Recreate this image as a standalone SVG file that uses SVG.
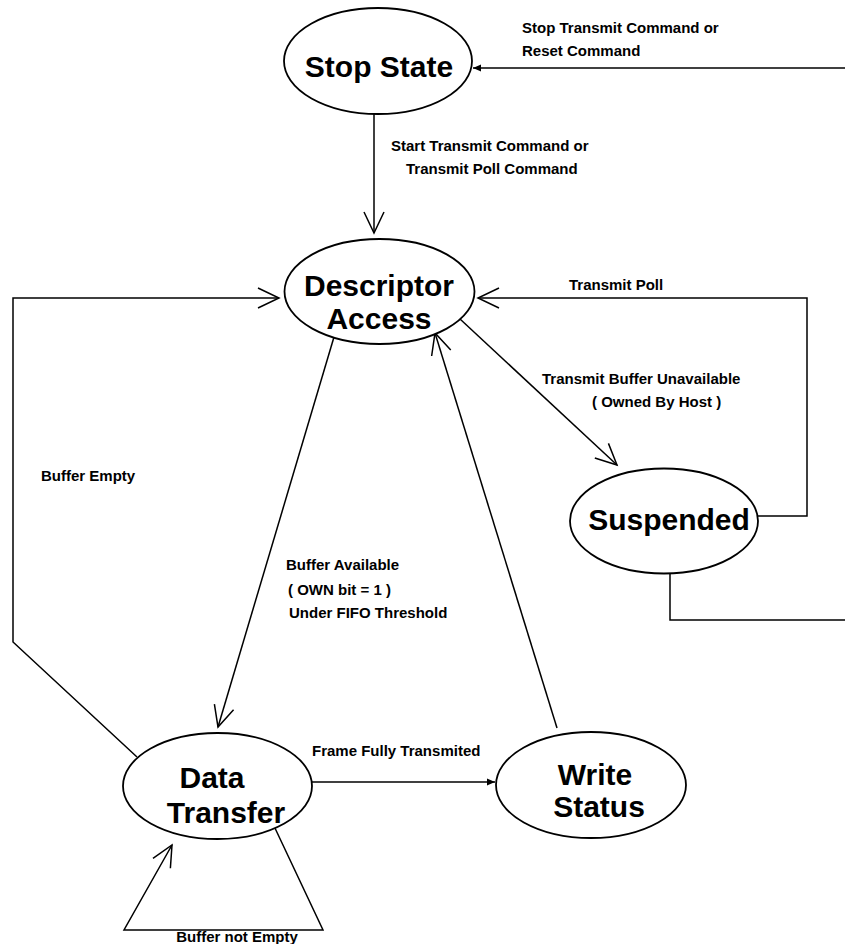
<svg xmlns="http://www.w3.org/2000/svg" width="845" height="944" viewBox="0 0 845 944">
<style>
.node ellipse{fill:#fff;stroke:#000;stroke-width:1.8}
.big{font-family:"Liberation Sans",Arial,sans-serif;font-weight:bold;font-size:30px;fill:#000;text-anchor:middle}
.lbl{font-family:"Liberation Sans",Arial,sans-serif;font-weight:bold;font-size:15px;fill:#000}
.conn path{fill:none;stroke:#000;stroke-width:1.5}
</style>
<defs>
<marker id="open" viewBox="-24 -13 27 26" refX="0" refY="0" markerWidth="27" markerHeight="26" markerUnits="userSpaceOnUse" orient="auto" overflow="visible">
<path d="M-21,-10 L0,0 L-21,10" fill="none" stroke="#000" stroke-width="1.5"/>
</marker>
<marker id="solid" viewBox="-10 -5 11 10" refX="0" refY="0" markerWidth="11" markerHeight="10" markerUnits="userSpaceOnUse" orient="auto" overflow="visible">
<path d="M-8,-3.5 L0,0 L-8,3.5 Z" fill="#000"/>
</marker>
</defs>
<rect width="845" height="944" fill="#fff"/>
<g id="connectors" class="conn">
<path d="M845,68 L473,68" marker-end="url(#solid)"/>
<path d="M374,114 L374,233" marker-end="url(#open)"/>
<path d="M137,757 L13,642 L13,298 L279,298" marker-end="url(#open)"/>
<path d="M758,516 L807,516 L807,298 L478,298" marker-end="url(#open)"/>
<path d="M460,319 L617,465" marker-end="url(#open)"/>
<path d="M670,573 L670,620 L845,620"/>
<path d="M334,337 L218,727" marker-end="url(#open)"/>
<path d="M557,728 L435,333" marker-end="url(#open)"/>
<path d="M312,782 L495,782" marker-end="url(#solid)"/>
<path d="M274,826 L323,930 L124,930 L172,845" marker-end="url(#open)"/>
</g>
<g id="labels">
<text class="lbl" x="522" y="33">Stop Transmit Command or</text>
<text class="lbl" x="522" y="56">Reset Command</text>
<text class="lbl" x="391" y="151">Start Transmit Command or</text>
<text class="lbl" x="406" y="174">Transmit Poll Command</text>
<text class="lbl" x="569" y="290">Transmit Poll</text>
<text class="lbl" x="542" y="384">Transmit Buffer Unavailable</text>
<text class="lbl" x="592" y="407">( Owned By Host )</text>
<text class="lbl" x="41" y="481">Buffer Empty</text>
<text class="lbl" x="286" y="570">Buffer Available</text>
<text class="lbl" x="288" y="595">( OWN bit = 1 )</text>
<text class="lbl" x="289" y="618">Under FIFO Threshold</text>
<text class="lbl" x="312" y="756">Frame Fully Transmited</text>
<text class="lbl" x="237" y="942" text-anchor="middle">Buffer not Empty</text>
</g>
<g id="stop-state" class="node">
<ellipse cx="378" cy="61" rx="94" ry="53"/>
<text class="big" x="379" y="77">Stop State</text>
</g>
<g id="descriptor-access" class="node">
<ellipse cx="379.5" cy="291.5" rx="95" ry="52.5"/>
<text class="big" x="379" y="296">Descriptor</text>
<text class="big" x="379" y="329">Access</text>
</g>
<g id="suspended" class="node">
<ellipse cx="664" cy="521" rx="94" ry="52.5"/>
<text class="big" x="669" y="530">Suspended</text>
</g>
<g id="data-transfer" class="node">
<ellipse cx="217.5" cy="786" rx="94.5" ry="53"/>
<text class="big" x="212" y="788">Data</text>
<text class="big" x="226" y="823">Transfer</text>
</g>
<g id="write-status" class="node">
<ellipse cx="591" cy="785" rx="95" ry="53"/>
<text class="big" x="595" y="785">Write</text>
<text class="big" x="599" y="817">Status</text>
</g>
</svg>
